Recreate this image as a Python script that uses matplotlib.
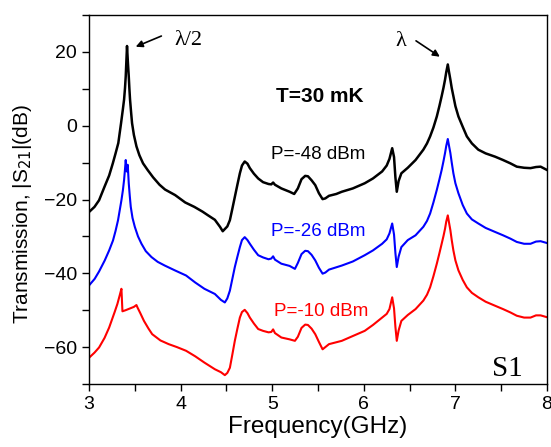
import matplotlib
matplotlib.use("Agg")
import matplotlib.pyplot as plt
from matplotlib.ticker import MultipleLocator

# ---- data: (frequency GHz, |S21| dB) ----
black_pts = [
    (3.00, -23.4), (3.06, -22.0), (3.11, -20.2), (3.17, -16.5), (3.22, -13.5), (3.26, -10.2),
    (3.29, -7.5), (3.32, -4.7), (3.35, 0.7), (3.37, 4.5), (3.383, 7.1), (3.393, 10.2),
    (3.401, 13.4), (3.408, 17.5), (3.415, 21.6), (3.425, 17.0), (3.434, 13.4), (3.441, 10.0),
    (3.448, 7.1), (3.46, 3.5), (3.47, 0.7), (3.49, -2.5), (3.518, -5.6), (3.55, -8.0),
    (3.59, -10.2), (3.64, -12.0), (3.70, -14.0), (3.77, -16.0), (3.83, -17.3), (3.94, -18.8),
    (4.05, -20.8), (4.15, -22.0), (4.24, -23.3), (4.30, -24.3), (4.374, -25.5), (4.43, -27.4),
    (4.46, -28.6), (4.483, -28.0), (4.51, -27.3), (4.538, -25.6), (4.565, -22.5), (4.592, -19.3),
    (4.62, -16.0), (4.647, -12.9), (4.67, -10.8), (4.70, -9.7), (4.73, -10.3), (4.756, -11.5),
    (4.80, -13.0), (4.847, -14.3), (4.90, -15.3), (4.96, -15.8), (4.99, -15.9), (5.01, -15.4),
    (5.03, -16.0), (5.10, -17.0), (5.19, -17.9), (5.24, -18.5), (5.28, -17.0), (5.32, -14.5),
    (5.36, -13.6), (5.39, -13.7), (5.43, -14.8), (5.47, -16.1), (5.51, -18.3), (5.55, -19.9),
    (5.58, -19.7), (5.62, -19.0), (5.70, -18.5), (5.76, -17.9), (5.88, -17.0), (6.01, -15.6),
    (6.10, -14.3), (6.20, -12.4), (6.25, -10.8), (6.28, -9.0), (6.31, -6.1), (6.33, -8.5),
    (6.345, -14.0), (6.36, -17.9), (6.38, -15.0), (6.41, -12.9), (6.48, -11.4), (6.565, -9.3),
    (6.65, -6.5), (6.69, -4.8), (6.724, -2.9), (6.76, -0.5), (6.797, 2.5), (6.825, 5.3),
    (6.85, 8.0), (6.87, 10.3), (6.887, 12.5), (6.90, 14.5), (6.917, 16.6), (6.93, 14.6),
    (6.945, 12.5), (6.96, 10.2), (6.978, 8.0), (7.00, 5.3), (7.033, 2.5), (7.08, -0.3),
    (7.125, -2.9), (7.18, -4.8), (7.25, -6.5), (7.33, -7.5), (7.434, -8.4), (7.52, -9.3),
    (7.60, -10.2), (7.67, -11.1), (7.75, -11.4), (7.82, -11.5), (7.88, -11.2), (7.93, -11.1),
    (8.00, -12.0)]

blue_pts = [
    (3.00, -43.3), (3.062, -41.5), (3.11, -39.5), (3.172, -36.5), (3.22, -33.8), (3.262, -31.1),
    (3.29, -28.5), (3.317, -25.6), (3.354, -20.2), (3.37, -17.5), (3.383, -14.7), (3.393, -11.8),
    (3.401, -9.3), (3.412, -12.4), (3.423, -10.6), (3.434, -15.6), (3.445, -19.0), (3.456, -22.0),
    (3.475, -25.0), (3.50, -27.4), (3.535, -30.0), (3.573, -32.0), (3.62, -34.0), (3.682, -35.6),
    (3.75, -36.9), (3.827, -37.9), (3.937, -39.2), (4.06, -40.6), (4.16, -42.5), (4.26, -44.2),
    (4.374, -45.6), (4.44, -47.2), (4.483, -47.9), (4.51, -46.8), (4.538, -44.7), (4.565, -41.5),
    (4.592, -38.3), (4.62, -35.5), (4.647, -32.9), (4.67, -31.0), (4.70, -30.2), (4.73, -31.0),
    (4.756, -32.0), (4.80, -33.6), (4.847, -35.1), (4.90, -35.7), (4.96, -36.2), (4.99, -36.0),
    (5.01, -35.4), (5.03, -36.3), (5.10, -37.4), (5.19, -38.0), (5.248, -38.8), (5.28, -37.2),
    (5.32, -34.8), (5.36, -33.9), (5.39, -34.0), (5.43, -35.0), (5.47, -36.5), (5.51, -38.5),
    (5.55, -40.1), (5.58, -39.8), (5.62, -39.0), (5.76, -37.9), (5.88, -36.8), (6.01, -35.1),
    (6.10, -33.8), (6.20, -32.0), (6.25, -30.8), (6.28, -29.2), (6.31, -26.5), (6.33, -29.5),
    (6.345, -34.5), (6.36, -38.3), (6.38, -35.5), (6.41, -32.9), (6.48, -31.0), (6.565, -29.7),
    (6.65, -27.4), (6.69, -25.8), (6.724, -23.8), (6.76, -20.8), (6.797, -17.4), (6.825, -14.6),
    (6.85, -12.0), (6.87, -9.6), (6.887, -7.4), (6.90, -5.5), (6.917, -3.6), (6.93, -5.4),
    (6.945, -7.4), (6.96, -10.0), (6.978, -12.9), (7.00, -15.6), (7.033, -18.3), (7.08, -21.5),
    (7.125, -23.8), (7.18, -25.4), (7.25, -26.5), (7.33, -27.7), (7.434, -28.8), (7.52, -29.7),
    (7.60, -30.6), (7.67, -31.5), (7.75, -32.0), (7.82, -32.0), (7.88, -31.4), (7.93, -31.3),
    (8.00, -31.8)]

red_pts = [
    (3.00, -62.9), (3.06, -61.5), (3.11, -60.1), (3.17, -57.5), (3.22, -54.7), (3.28, -50.5),
    (3.31, -48.3), (3.335, -46.0), (3.354, -44.2), (3.365, -50.3), (3.40, -50.0), (3.44, -49.6),
    (3.49, -49.1), (3.518, -48.6), (3.53, -49.3), (3.56, -50.8), (3.60, -52.9), (3.65, -55.0),
    (3.69, -56.5), (3.78, -58.2), (3.87, -59.2), (3.96, -60.0), (4.06, -61.0), (4.16, -62.5),
    (4.26, -64.2), (4.374, -66.0), (4.44, -66.8), (4.483, -67.6), (4.51, -67.0), (4.538, -65.6),
    (4.565, -62.0), (4.592, -58.3), (4.62, -55.0), (4.647, -52.0), (4.67, -50.5), (4.70, -49.9),
    (4.73, -50.8), (4.756, -52.0), (4.80, -53.6), (4.847, -55.1), (4.90, -55.6), (4.96, -56.0),
    (4.99, -55.9), (5.01, -55.2), (5.03, -56.2), (5.10, -57.4), (5.19, -57.9), (5.248, -58.3),
    (5.28, -57.2), (5.32, -54.8), (5.36, -53.9), (5.39, -54.0), (5.43, -55.0), (5.47, -56.5),
    (5.51, -58.6), (5.55, -60.6), (5.58, -60.0), (5.62, -59.2), (5.76, -58.3), (5.88, -57.0),
    (6.01, -55.6), (6.10, -54.0), (6.20, -52.0), (6.25, -51.0), (6.28, -49.7), (6.31, -46.5),
    (6.33, -49.5), (6.345, -54.5), (6.36, -58.3), (6.38, -55.5), (6.41, -52.9), (6.48, -51.3),
    (6.565, -49.7), (6.65, -47.4), (6.69, -45.8), (6.724, -43.8), (6.76, -40.8), (6.797, -37.4),
    (6.825, -34.6), (6.85, -32.0), (6.87, -29.9), (6.887, -27.9), (6.90, -26.0), (6.917, -24.3),
    (6.93, -26.2), (6.945, -28.3), (6.96, -31.0), (6.978, -33.8), (7.00, -36.5), (7.033, -39.2),
    (7.08, -41.8), (7.125, -43.8), (7.18, -45.3), (7.25, -46.5), (7.33, -47.7), (7.434, -48.8),
    (7.52, -49.7), (7.60, -50.6), (7.67, -51.5), (7.75, -52.0), (7.82, -52.0), (7.88, -51.4),
    (7.93, -51.4), (8.00, -51.9)]

series_labels = ["P=-48 dBm", "P=-26 dBm", "P=-10 dBm"]
series_colors = ["black", "#0000ff", "#ff0000"]
xticks = [3, 4, 5, 6, 7, 8]
yticks = [-60, -40, -20, 0, 20]

# ---- figure ----
plt.rcParams['font.family'] = ['Liberation Sans', 'DejaVu Sans']
fig = plt.figure(figsize=(5.51, 4.47), dpi=100)
ax = fig.add_axes([89/551, 1 - 384/447, (547 - 89)/551, (384 - 15)/447])

for pts, col, lw in [(black_pts, series_colors[0], 1.8),
                     (blue_pts, series_colors[1], 1.5),
                     (red_pts, series_colors[2], 1.5)]:
    f, s = zip(*pts)
    ax.plot(f, s, color=col, lw=lw, solid_joinstyle='round')

ax.set_xlim(3, 8)
ax.set_ylim(-70, 30)
ax.set_xticks(xticks)
ax.set_yticks(yticks)
ax.xaxis.set_minor_locator(MultipleLocator(0.5))
ax.yaxis.set_minor_locator(MultipleLocator(10))
ax.tick_params(which='both', direction='out', labelsize=14, width=1.0)
ax.tick_params(which='major', length=5)
ax.tick_params(which='minor', length=5)
for sp in ax.spines.values():
    sp.set_linewidth(1.0)

ax.set_xlabel("Frequency(GHz)", fontsize=17.5, labelpad=2)
ax.set_ylabel("Transmission, |S$_{21}$|(dB)", fontsize=15)
ax.yaxis.set_label_coords(-0.12, 0.46)

# labels
ax.text(5.52, 7.9, "T=30 mK", fontsize=15, fontweight='bold', ha='center', va='center')
ax.text(5.50, -7.9, series_labels[0], fontsize=13.5, color=series_colors[0], ha='center', va='center')
ax.text(5.50, -28.6, series_labels[1], fontsize=13.5, color=series_colors[1], ha='center', va='center')
ax.text(5.54, -50.4, series_labels[2], fontsize=13.5, color=series_colors[2], ha='center', va='center')

serif = ['Liberation Serif', 'DejaVu Serif']
ax.text(4.08, 23.1, "λ/2", fontsize=16, family=serif, ha='center', va='center')
ax.text(6.40, 22.8, "λ", fontsize=16, family=serif, ha='center', va='center')
ax.text(7.57, -66.0, "S1", fontsize=21, family=serif, ha='center', va='center')

arrow = dict(arrowstyle='-|>', color='black', lw=1.2, mutation_scale=10, shrinkA=0, shrinkB=0)
ax.annotate("", xy=(3.51, 21.4), xytext=(3.79, 24.3), arrowprops=arrow)
ax.annotate("", xy=(6.83, 18.7), xytext=(6.57, 23.0), arrowprops=arrow)

fig.savefig("out.png", dpi=100)
